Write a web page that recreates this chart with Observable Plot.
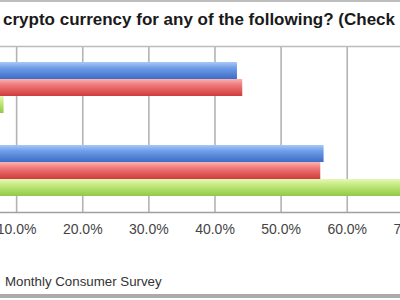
<!DOCTYPE html>
<html>
<head>
<meta charset="utf-8">
<script src="https://cdn.jsdelivr.net/npm/d3@7"></script>
<script src="https://cdn.jsdelivr.net/npm/@observablehq/plot@0.6"></script>
<style>
  html, body { margin: 0; padding: 0; background: #fff; overflow: hidden; }
  #wrap { position: relative; width: 400px; height: 300px; overflow: hidden; background: #fff;
          font-family: "Liberation Sans", Arial, sans-serif; }
  #topline { position: absolute; left: 0; top: 0; width: 400px; height: 2px; background: #bdbdbd; }
  #title { position: absolute; left: 3px; top: 10.5px; font-size: 17px; line-height: 17px;
           font-weight: bold; color: #1a1a1a; white-space: nowrap; }
  #chart { position: absolute; left: -60px; top: 40px; }
  #chart svg { max-width: none !important; display: block; }
  #caption { position: absolute; left: 5px; top: 275px; font-size: 13.3px; line-height: 13.3px;
             color: #333; white-space: nowrap; }
  #botline { position: absolute; left: 0; top: 294px; width: 400px; height: 4px; background: #ababab; }
</style>
</head>
<body>
<div id="wrap">
  <div id="topline"></div>
  <div id="title"></div>
  <div id="chart"></div>
  <div id="caption"></div>
  <div id="botline"></div>
</div>
<script>
// ---- data ----
const titleText = "crypto currency for any of the following? (Check";
const captionText = "Monthly Consumer Survey";
const categories = ["Answer 1", "Answer 2"];
const series = ["Survey 1", "Survey 2", "Survey 3"];
const blueValues = [0.434, 0.565];
const redValues = [0.442, 0.560];
const greenValues = [0.081, 0.74];
const tickValues = [0.1, 0.2, 0.3, 0.4, 0.5, 0.6, 0.7];

const seriesValues = [blueValues, redValues, greenValues];
const data = [];
categories.forEach((c, ci) => {
  series.forEach((s, si) => {
    data.push({category: c, series: s, value: seriesValues[si][ci]});
  });
});

document.getElementById("title").textContent = titleText;
document.getElementById("caption").textContent = captionText;

const chart = Plot.plot({
  width: 560,
  height: 207,
  marginLeft: 10,
  marginRight: 21.04,
  marginTop: 5,
  marginBottom: 35,
  style: {fontFamily: "Liberation Sans, Arial, sans-serif", background: "transparent"},
  x: {domain: [0, 0.8], axis: null},
  y: {domain: series, paddingInner: 0, paddingOuter: 0.82, axis: null},
  fy: {domain: categories, padding: 0, axis: null},
  color: {domain: series, range: ["url(#gBlue)", "url(#gRed)", "url(#gGreen)"]},
  marks: [
    Plot.gridX(tickValues, {stroke: "#b3b3b3", strokeOpacity: 1, strokeWidth: 1.6}),
    Plot.barX(data, {x: "value", y: "series", fy: "category", fill: "series"}),
    Plot.axisX(tickValues, {tickFormat: d3.format(".1%"), tickSize: 0, tickPadding: 12,
                            fontSize: 14, fill: "#444", facetAnchor: "bottom"}),
    Plot.frame({anchor: "top", facetAnchor: "top", stroke: "#bbb", strokeWidth: 1.5}),
    Plot.frame({anchor: "bottom", facetAnchor: "bottom", stroke: "#a0a0a0", strokeWidth: 1.5})
  ]
});

chart.insertAdjacentHTML("afterbegin", `
<defs>
  <linearGradient id="gBlue" x1="0" y1="0" x2="0" y2="1">
    <stop offset="0" stop-color="#a9c8f7"/>
    <stop offset="0.35" stop-color="#6f9de8"/>
    <stop offset="1" stop-color="#3c6cc6"/>
  </linearGradient>
  <linearGradient id="gRed" x1="0" y1="0" x2="0" y2="1">
    <stop offset="0" stop-color="#f8b3b3"/>
    <stop offset="0.35" stop-color="#ef7a7a"/>
    <stop offset="1" stop-color="#cf3b3b"/>
  </linearGradient>
  <linearGradient id="gGreen" x1="0" y1="0" x2="0" y2="1">
    <stop offset="0" stop-color="#e6f8b8"/>
    <stop offset="0.35" stop-color="#c4ea80"/>
    <stop offset="1" stop-color="#92c847"/>
  </linearGradient>
</defs>`);

document.getElementById("chart").appendChild(chart);
</script>
</body>
</html>
